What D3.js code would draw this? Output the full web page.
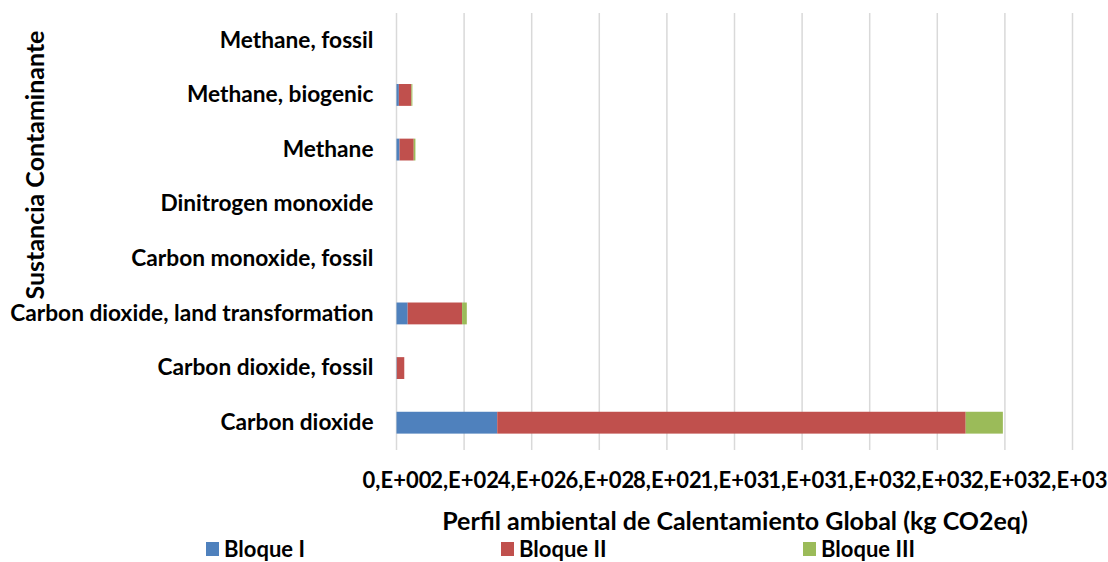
<!DOCTYPE html>
<html>
<head>
<meta charset="utf-8">
<script src="https://cdn.jsdelivr.net/npm/d3@7"></script>
<style>
  body { margin: 0; background: #fff; }
  text { font-family: Lato, "Open Sans", sans-serif; font-weight: bold; fill: #000; }
</style>
</head>
<body>
<svg id="chart" width="1108" height="562"></svg>
<script>
// categories bottom -> top as in the chart
var substances = ["Carbon dioxide", "Carbon dioxide, fossil", "Carbon dioxide, land transformation",
  "Carbon monoxide, fossil", "Dinitrogen monoxide", "Methane", "Methane, biogenic", "Methane, fossil"];
var bloqueI   = [298, 1, 33, 0, 0, 9, 7, 0];
var bloqueII  = [1386, 22, 161, 0, 0, 42, 37, 0];
var bloqueIII = [110, 0, 14, 0, 0, 5, 3, 0];
var seriesNames = ["Bloque I", "Bloque II", "Bloque III"];
var colors = ["#4F81BD", "#C0504D", "#9BBB59"];
var xTicks = [0, 200, 400, 600, 800, 1000, 1200, 1400, 1600, 1800, 2000];

var rows = substances.map(function(s, i){
  return { name: s, "Bloque I": bloqueI[i], "Bloque II": bloqueII[i], "Bloque III": bloqueIII[i] };
});

var svg = d3.select("#chart");
var plotL = 396.5, plotR = 1072.5, plotT = 13, plotB = 450;

var x = d3.scaleLinear().domain([0, 2000]).range([plotL, plotR]);
var y = d3.scaleBand().domain(substances.slice().reverse()).range([plotT, plotB]).paddingInner(0.6).paddingOuter(0.3);

// gridlines
svg.append("g").selectAll("line")
  .data(xTicks).enter().append("line")
  .attr("x1", d => x(d)).attr("x2", d => x(d))
  .attr("y1", plotT).attr("y2", plotB)
  .attr("stroke", "#D9D9D9").attr("stroke-width", 1.5);

var stack = d3.stack().keys(seriesNames)(rows);

svg.append("g").selectAll("g")
  .data(stack).enter().append("g")
  .attr("fill", (d, i) => colors[i])
  .selectAll("rect")
  .data(d => d).enter().append("rect")
  .attr("x", d => x(d[0]))
  .attr("y", d => y(d.data.name))
  .attr("width", d => Math.max(0, x(d[1]) - x(d[0])))
  .attr("height", y.bandwidth());

// category labels
var yAxis = d3.axisLeft(y).tickSize(0).tickPadding(23);
var gy = svg.append("g").attr("transform", "translate(" + plotL + ",0)").call(yAxis);
gy.select(".domain").remove();
gy.selectAll("text").style("font-size", "22.7px").attr("fill", "#000")
  .style("font-family", "Lato, 'Open Sans', sans-serif").style("font-weight", "bold");

// x tick labels
function expFmt(d){
  var s = d.toExponential(0).split("e");
  var e = parseInt(s[1], 10);
  return s[0] + ",E" + (e < 0 ? "-" : "+") + String(Math.abs(e)).padStart(2, "0");
}
var xAxis = d3.axisBottom(x).tickValues(xTicks).tickFormat(expFmt).tickSize(0).tickPadding(22);
var gx = svg.append("g").attr("transform", "translate(0," + plotB + ")").call(xAxis);
gx.select(".domain").remove();
gx.selectAll("text").style("font-size", "22px").attr("fill", "#000")
  .style("font-family", "Lato, 'Open Sans', sans-serif").style("font-weight", "bold");

// axis titles
svg.append("text").attr("x", 735).attr("y", 530).attr("text-anchor", "middle")
  .style("font-size", "25px").text("Perfil ambiental de Calentamiento Global (kg CO2eq)");
svg.append("text").attr("transform", "translate(44,165) rotate(-90)").attr("text-anchor", "middle")
  .style("font-size", "25px").text("Sustancia Contaminante");

// legend
var legendX = [206, 501, 803];
var lg = svg.append("g").selectAll("g").data(seriesNames).enter().append("g")
  .attr("transform", (d, i) => "translate(" + legendX[i] + ",542)");
lg.append("rect").attr("width", 13).attr("height", 14).attr("fill", (d, i) => colors[i]);
lg.append("text").attr("x", 18).attr("y", 15).style("font-size", "22px").text(d => d);
</script>
</body>
</html>
